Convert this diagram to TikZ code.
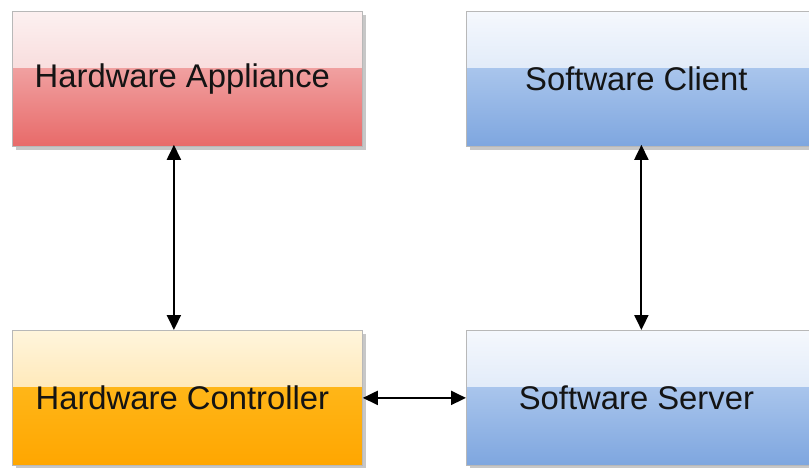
\documentclass[tikz,border=0pt]{standalone}
\usepackage{fontspec}
\setmainfont{Liberation Sans}
\usetikzlibrary{calc,shadows,arrows.meta}
\definecolor{redA}{HTML}{FCF0F0}
\definecolor{redB}{HTML}{F4C4C4}
\definecolor{redC}{HTML}{F0A0A0}
\definecolor{redD}{HTML}{E86A69}
\definecolor{orA}{HTML}{FFF5DC}
\definecolor{orB}{HTML}{FFD98C}
\definecolor{orC}{HTML}{FFB618}
\definecolor{orD}{HTML}{FFA600}
\definecolor{blA}{HTML}{F5F8FD}
\definecolor{blB}{HTML}{C8DAF3}
\definecolor{blC}{HTML}{A9C5EC}
\definecolor{blD}{HTML}{7EA6DF}
\definecolor{txt}{HTML}{141414}
\tikzset{
  glossy/.style n args={4}{path picture={
    \fill[top color=#1, bottom color=#2]
      (path picture bounding box.north west) rectangle
      ($(path picture bounding box.north east)!0.42!(path picture bounding box.south east)$);
    \fill[top color=#3, bottom color=#4]
      ($(path picture bounding box.north west)!0.42!(path picture bounding box.south west)$) rectangle
      (path picture bounding box.south east);
  }},
  box/.style={rectangle, anchor=north west, minimum width=350pt, minimum height=135pt,
    inner sep=0pt, draw=black!28, line width=0.8pt,
    drop shadow={shadow xshift=4pt, shadow yshift=-4pt, fill=black, opacity=0.22}},
  lbl/.style={font=\fontsize{32.8}{39}\selectfont, text=txt, xshift=-5pt},
  arr/.style={{Triangle[length=15pt,width=14pt]}-{Triangle[length=15pt,width=14pt]}, line width=2pt, black},
}
\begin{document}
\begin{tikzpicture}[x=1pt,y=-1pt]
\useasboundingbox (0,0) rectangle (809,468);
\node[box, glossy={redA}{redB}{redC}{redD}, label={[lbl]center:Hardware Appliance}] (ha) at (12,11) {};
\node[box, glossy={blA}{blB}{blC}{blD}, label={[lbl]center:Software Client}] (sc) at (466,11) {};
\node[box, glossy={orA}{orB}{orC}{orD}, label={[lbl]center:Hardware Controller}] (hc) at (12,330) {};
\node[box, glossy={blA}{blB}{blC}{blD}, label={[lbl]center:Software Server}] (ss) at (466,330) {};
\draw[arr, shorten <=-2pt] ($(ha.south)+(-13.5,0)$) -- ($(hc.north)+(-13.5,0)$);
\draw[arr, shorten <=-2pt] (sc.south) -- (ss.north);
\draw[arr] (hc.east) -- (ss.west);
\end{tikzpicture}
\end{document}
